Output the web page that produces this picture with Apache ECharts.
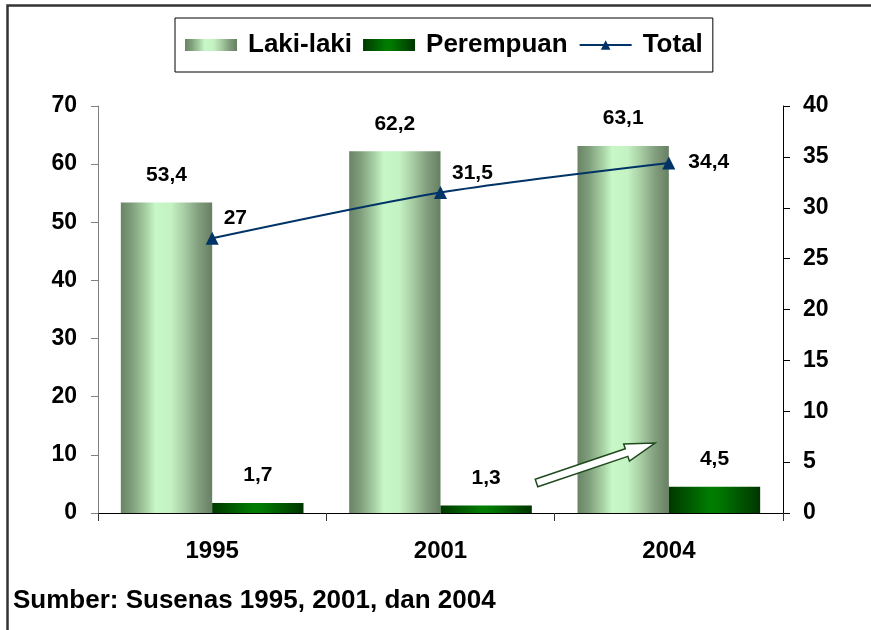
<!DOCTYPE html>
<html>
<head>
<meta charset="utf-8">
<script src="https://cdn.jsdelivr.net/npm/echarts@6/dist/echarts.min.js"></script>
<style>html,body{margin:0;padding:0;background:#fff;}#c{width:871px;height:630px;}</style>
</head>
<body>
<div id="c"></div>
<script>
var categories = ['1995', '2001', '2004'];
var lakiLaki = [53.4, 62.2, 63.1];
var perempuan = [1.7, 1.3, 4.5];
var total = [27, 31.5, 34.4];
var seriesNames = ['Laki-laki', 'Perempuan', 'Total'];
var sourceText = 'Sumber: Susenas 1995, 2001, dan 2004';

var FONT = '"Liberation Sans", Arial, sans-serif';
function fmt(p) { return String(p.value).replace('.', ','); }

var lakiGrad = new echarts.graphic.LinearGradient(0, 0, 1, 0, [
  {offset: 0, color: '#6a8466'}, {offset: 0.12, color: '#7f9d7b'},
  {offset: 0.28, color: '#a8d2a5'}, {offset: 0.38, color: '#c8f8c8'},
  {offset: 0.55, color: '#c4f2c2'}, {offset: 0.7, color: '#a6cba2'},
  {offset: 0.85, color: '#829e7e'}, {offset: 1, color: '#677f62'}
]);
var perGrad = new echarts.graphic.LinearGradient(0, 0, 1, 0, [
  {offset: 0, color: '#003800'}, {offset: 0.45, color: '#007d00'},
  {offset: 0.55, color: '#007800'}, {offset: 1, color: '#003500'}
]);

var totalLabelOffsets = [[0, -20], [0, -19], [8, -1]];
var totalData = total.map(function (v, i) {
  return {value: v, label: {offset: totalLabelOffsets[i]}};
});

// arrow annotation geometry
var T = [536.5, 483], E = [655, 443];
var dx = E[0] - T[0], dy = E[1] - T[1], L = Math.sqrt(dx * dx + dy * dy);
var u = [dx / L, dy / L], n = [-u[1], u[0]];
if (n[1] < 0) { n = [-n[0], -n[1]]; }
function pt(base, a, b) { return [base[0] + a * u[0] + b * n[0], base[1] + a * u[1] + b * n[1]]; }
var shaftLen = L - 30;
var arrowPts = [pt(T, 0, -4), pt(T, shaftLen, -4), pt(T, shaftLen, -9), E, pt(T, shaftLen, 9), pt(T, shaftLen, 4), pt(T, 0, 4)];

var chart = echarts.init(document.getElementById('c'), null, {renderer: 'canvas'});
chart.setOption({
  animation: false,
  backgroundColor: '#fff',
  textStyle: {fontFamily: FONT},
  legend: {
    left: 175, top: 18,
    padding: [14, 10, 14, 10],
    itemWidth: 52, itemHeight: 12, itemGap: 11,
    borderColor: '#000', borderWidth: 1,
    data: [{name: seriesNames[0], icon: 'rect'}, {name: seriesNames[1], icon: 'rect'}, {name: seriesNames[2]}],
    textStyle: {fontFamily: FONT, fontWeight: 'bold', fontSize: 26, color: '#000', padding: [0, 2, 0, 6]}
  },
  grid: {left: 98, right: 88, top: 106, bottom: 117, containLabel: false},
  xAxis: {
    type: 'category', data: categories,
    axisLine: {lineStyle: {color: '#000', width: 1}},
    axisTick: {show: true, length: 8, lineStyle: {color: '#333'}},
    axisLabel: {fontFamily: FONT, fontWeight: 'bold', fontSize: 24, color: '#000', margin: 26}
  },
  yAxis: [{
    type: 'value', min: 0, max: 70, interval: 10, position: 'left',
    axisLine: {show: true, lineStyle: {color: '#808080'}},
    axisTick: {show: true, length: 7, lineStyle: {color: '#808080'}},
    splitLine: {show: false},
    axisLabel: {fontFamily: FONT, fontWeight: 'bold', fontSize: 23, color: '#000', margin: 21}
  }, {
    type: 'value', min: 0, max: 40, interval: 5, position: 'right',
    axisLine: {show: true, lineStyle: {color: '#000'}},
    axisTick: {show: true, length: 7, lineStyle: {color: '#000'}},
    splitLine: {show: false},
    axisLabel: {fontFamily: FONT, fontWeight: 'bold', fontSize: 23, color: '#000', margin: 20}
  }],
  series: [{
    name: seriesNames[0], type: 'bar', data: lakiLaki, yAxisIndex: 0,
    barGap: '0%', barCategoryGap: '20%',
    itemStyle: {color: lakiGrad},
    label: {show: true, position: 'top', distance: 17, formatter: fmt,
      fontFamily: FONT, fontWeight: 'bold', fontSize: 21, color: '#000'}
  }, {
    name: seriesNames[1], type: 'bar', data: perempuan, yAxisIndex: 0,
    barGap: '0%', barCategoryGap: '20%',
    itemStyle: {color: perGrad},
    label: {show: true, position: 'top', distance: 17, formatter: fmt,
      fontFamily: FONT, fontWeight: 'bold', fontSize: 21, color: '#000'}
  }, {
    name: seriesNames[2], type: 'line', data: totalData, yAxisIndex: 1,
    smooth: 0.25, symbol: 'triangle', symbolSize: 13,
    lineStyle: {color: '#003366', width: 2},
    itemStyle: {color: '#003366'},
    z: 5,
    label: {show: true, position: 'right', distance: 5, formatter: fmt,
      fontFamily: FONT, fontWeight: 'bold', fontSize: 21, color: '#000'}
  }],
  graphic: [{
    type: 'rect', left: 5, top: 3, z: 100, silent: true,
    shape: {width: 900, height: 700},
    style: {fill: 'none', stroke: '#333', lineWidth: 2.5}
  }, {
    type: 'polygon', z: 100, silent: true,
    shape: {points: arrowPts},
    style: {fill: '#fff', stroke: '#1f4a1f', lineWidth: 1.5}
  }, {
    type: 'text', left: 13, top: 588, z: 100, silent: true,
    style: {text: sourceText, font: 'bold 26px ' + FONT, fill: '#000'}
  }]
});
</script>
</body>
</html>
